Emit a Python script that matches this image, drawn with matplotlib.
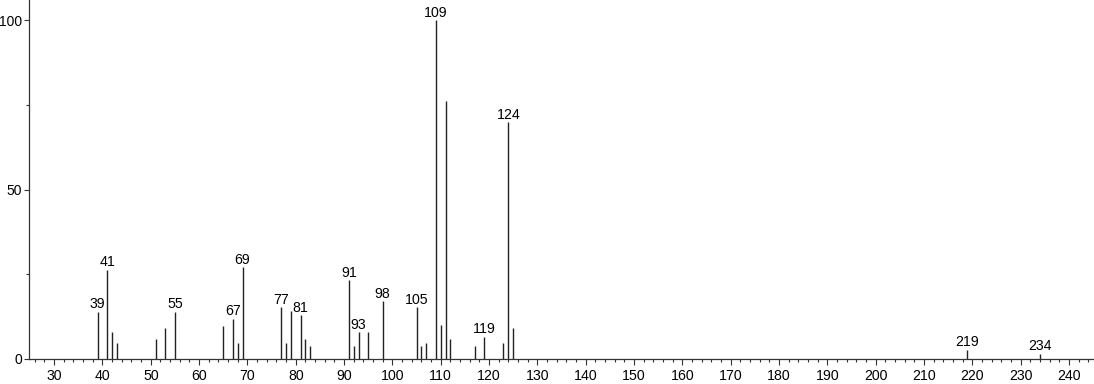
import numpy as np
import matplotlib
matplotlib.use("Agg")
import matplotlib.pyplot as plt
from matplotlib.ticker import MultipleLocator

plt.rcParams['font.family'] = ['Liberation Sans', 'DejaVu Sans']

# m/z and relative intensity
mz = [39, 41, 42, 43, 51, 53, 55, 65, 67, 68, 69, 77, 78, 79, 81, 82, 83,
      91, 92, 93, 95, 98, 105, 106, 107, 109, 110, 111, 112, 117, 119,
      123, 124, 125, 219, 234]
intensity = [13.9, 26.3, 8.0, 4.6, 5.8, 9.1, 13.9, 9.8, 11.9, 4.6, 27.1,
             15.3, 4.7, 14.1, 12.9, 5.8, 3.8, 23.3, 3.8, 7.9, 7.9, 17.1,
             15.3, 3.8, 4.7, 100.0, 10.0, 76.1, 5.8, 3.8, 6.6, 4.7, 69.8,
             9.0, 2.8, 1.5]
labelled = [39, 41, 55, 67, 69, 77, 81, 91, 93, 98, 105, 109, 119, 124, 219, 234]

fig = plt.figure(figsize=(10.94, 3.84), dpi=100)
ax = fig.add_axes([29 / 1094, 25 / 384, 1 - 30 / 1094, 1 - 25 / 384])

ax.vlines(mz, 0, intensity, colors='#222222', linewidth=1.0)
for m, h in zip(mz, intensity):
    if m in labelled:
        ax.annotate(str(m), (m, h), xytext=(0, 2.5), textcoords='offset points',
                    ha='center', va='baseline', fontsize=10.2, color='black')

ax.set_xlim(24.8, 245)
ax.set_ylim(0, 105.9)
ax.xaxis.set_major_locator(MultipleLocator(10))
ax.xaxis.set_minor_locator(MultipleLocator(2))
ax.yaxis.set_major_locator(MultipleLocator(50))
ax.yaxis.set_minor_locator(MultipleLocator(25))
ax.tick_params(axis='x', which='major', labelsize=10.2, length=4.5, width=0.8,
               color='#333333', labelcolor='black', pad=3)
ax.tick_params(axis='y', which='major', labelsize=10, length=3.8, width=0.8,
               color='#333333', labelcolor='black', pad=1)
ax.tick_params(axis='both', which='minor', length=2.5, width=0.8, color='#333333')

for side in ('top', 'right'):
    ax.spines[side].set_visible(False)
for side in ('left', 'bottom'):
    ax.spines[side].set_color('#333333')
    ax.spines[side].set_linewidth(0.9)

fig.savefig('out.png', dpi=100)
